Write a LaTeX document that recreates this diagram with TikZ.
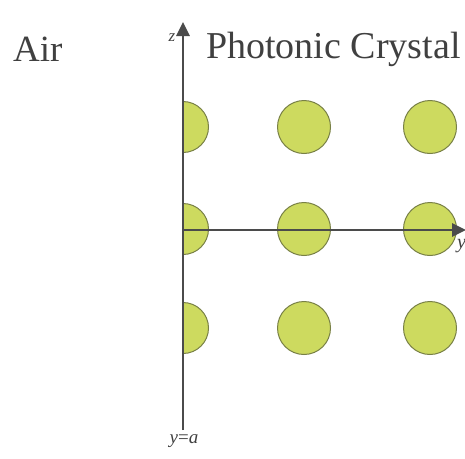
\documentclass[tikz,border=0pt]{standalone}
\usepackage{fontspec}
\setmainfont{Liberation Serif}
\usetikzlibrary{arrows.meta}
\definecolor{rodfill}{RGB}{205,218,95}
\definecolor{rodline}{RGB}{120,128,70}
\definecolor{axisgray}{RGB}{75,75,75}
\begin{document}
\begin{tikzpicture}[x=1pt,y=-1pt,
  rod/.style={fill=rodfill,draw=rodline,line width=1pt},
  axisline/.style={draw=axisgray,line width=2.8pt,-{Triangle[length=14pt,width=13pt]}},
  lbl/.style={inner sep=0pt,text=black!75}]
\useasboundingbox (0,0) rectangle (465,458);
% full rods
\foreach \cx in {304,430}{
  \foreach \cy in {127,229,328}{
    \filldraw[rod] (\cx,\cy) circle (26.5);
  }
}
% half rods at the boundary
\begin{scope}
  \clip (183,0) rectangle (465,458);
  \foreach \cy in {127,229,328}{
    \filldraw[rod] (183,\cy) circle (25.5);
  }
\end{scope}
% axes
\coordinate (o) at (183,230);
\coordinate (zbot) at (183,430);
\coordinate (ztop) at (183,22);
\coordinate (yend) at (466,230);
\draw[axisline] (zbot) -- (ztop);
\draw[axisline] (o) -- (yend);
% labels
\node[lbl,anchor=base west,font=\fontsize{37}{37}\selectfont] (air) at (13,61) {Air};
\node[lbl,anchor=base west,font=\fontsize{38}{38}\selectfont] (pc) at (206,58) {Photonic Crystal};
\node[lbl,font=\fontsize{17}{17}\selectfont\itshape] (zl) at (172,38) {z};
\node[lbl,anchor=west,font=\fontsize{20}{20}\selectfont\itshape] (yl) at (457,246) {y};
\node[lbl,font=\fontsize{19}{19}\selectfont] (ya) at (184,441) {\textit{y}=\textit{a}};
\end{tikzpicture}
\end{document}
